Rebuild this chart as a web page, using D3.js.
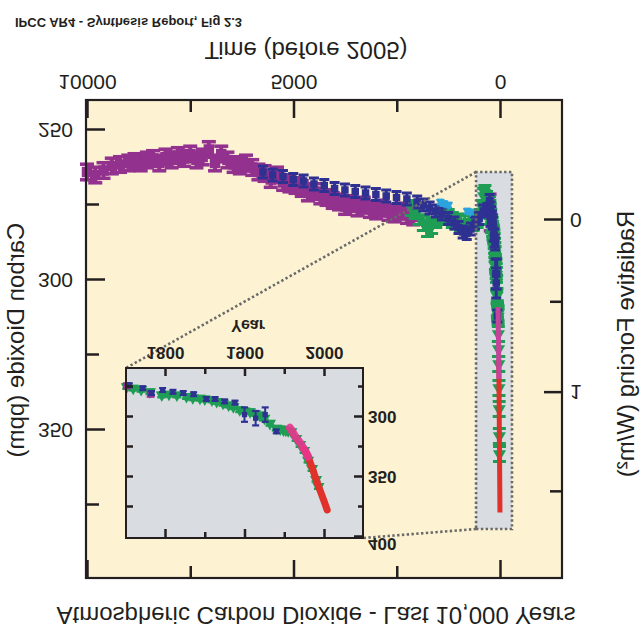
<!DOCTYPE html>
<html><head><meta charset="utf-8">
<script src="https://cdn.jsdelivr.net/npm/d3@7"></script>
<style>body{margin:0;background:#fff}svg{display:block}</style>
</head><body>
<script>
// ---------------- DATA ----------------
const REF_YEAR = 2005;
const timeMajorTicks = [10000, 5000, 0];
const timeMinorTicks = [7500, 2500];
const co2MajorTicks = [250, 300, 350];
const co2MinorTicks = [275, 325, 375];
const forcingMajorTicks = [0, 1];
const forcingMinorTicks = [0.5, 1.5];
const insetYearMajor = [1800, 1900, 2000];
const insetYearMinor = [1850, 1950];
const insetCo2Major = [300, 350, 400];
const insetCo2Minor = [275, 325, 375];

// ice core series (year AD, ppm)
const purpleYear = [-7995,-7795,-7595,-7395,-7195,-6995,-6845,-6695,-6545,-6395,-6245,-6095,-5945,-5795,-5645,-5495,-5345,-5195,-5045,-4895,-4745,-4595,-4445,-4295,-4145,-3995,-3845,-3695,-3545,-3395,-3245,-3095,-2945,-2795,-2645,-2495,-2345,-2195,-2045,-1895,-1745,-1595,-1445,-1295,-1145,-995,-845,-695,-545,-395,-245,-95,1752,1782];
const purpleCO2 = [264,265,263.5,262,261.5,261,260.5,261,260,259.5,261,259,260,258.5,259.5,258,260,259,256.5,261,258,260,261.5,262,261,262.5,264,264.5,266.5,265,267.5,268,268.5,269.5,271,270.5,272,272.5,273.5,274,275.5,274.5,276,275,276.5,277,276,277.5,278,277,278.5,279,274,281];

const blueYear = [-3735,-3500,-3250,-3000,-2750,-2500,-2250,-2000,-1750,-1500,-1250,-1000,-750,-500,-250,0,150,300,450,600,750,900,1000,1100,1200,1300,1400,1500,1600,1700,1755,1772,1783,1797,1810,1823,1836,1852,1863,1875,1888,1900,1914,1926,1940];
const blueCO2 = [264,265,265.5,266.5,267,268,268.5,269.5,270,270.5,271,271.5,272,272.5,273,274,275,276,277,278,279.5,281,282.5,284,284.5,283,281,279.5,277,276.5,273.5,276,280,277.5,279,280,281,285,285,287,288,298,301,298,312];
const blueWideErrYears = [1900, 1914, 1926];

const greenYear = [-145,-50,50,150,250,350,450,550,650,750,850,950,1050,1150,1250,1350,1450,1530,1580,1610,1640,1680,1720,1752,1760,1770,1781,1796,1805,1815,1827,1835,1844,1850,1859,1865,1873,1880,1886,1894,1900,1907,1913,1919,1925,1932,1940,1945,1949,1952,1955,1959,1965,1970,1975,1980,1985,1990,1993];
const greenCO2 = [276,277,279,281,283,282,280,279,278.5,279,280,280.5,281,281,280.5,281,280,279,276,272,271,273,276,274.7,276,277,279,281.7,281,281.7,283,284,284.4,285,285.8,287,288.6,290,291.4,294,295,295.6,297,298.3,301,305.3,309.4,310,310.8,311,311.4,312.2,318,323,328,336,343,352,358];

const cyanYear = [560, 650, 760, 1210, 1290];
const cyanCO2 = [274, 274.5, 275, 277, 277.3];

// atmospheric measurements
const pinkYear = [1957,1960,1965,1970,1973,1977,1980];
const pinkCO2 = [309,312,317.5,321.5,325,329,333];
const redYear = [1975,1980,1986,1990,1995,2000,2004];
const redCO2 = [326.5,333,344,352,361,370,377.5];

// ---------------- STYLE ----------------
const FONT = "'Liberation Sans', Arial, Helvetica, sans-serif";
const INK = "#231f20";
const CREAM = "#fdf2d2";
const GREY = "#d9dce0";
const PURPLE = "#93318f";
const BLUE = "#2e3192";
const GREEN = "#1f9d55";
const CYAN = "#2ba3dc";
const PINK = "#e8358e";
const RED = "#e0312a";

const svg = d3.select("body").append("svg").attr("width", 640).attr("height", 640);
svg.append("rect").attr("width", 640).attr("height", 640).attr("fill", "#fff");
// the reference is shown mirrored top-to-bottom
const root = svg.append("g").attr("transform", "translate(0,640) scale(1,-1)")
  .style("font-family", FONT);

// ---------------- SCALES ----------------
const frame = {left: 86, right: 562, top: 62, bottom: 540};
const xMain = d3.scaleLinear().domain([10000, 0]).range([87, 500]);
const yMain = d3.scaleLinear().domain([250, 350]).range([510, 210]);
const xm = yr => xMain(REF_YEAR - yr);
const forcingToPpm = f => 280 * Math.exp(f / 5.35);

const inset = {left: 126, right: 363, top: 102, bottom: 272};
const xIn = d3.scaleLinear().domain([1800, 2000]).range([165, 324]);
const yIn = d3.scaleLinear().domain([300, 400]).range([223, 103]);
const INSET_START = 1750;

// ---------------- MAIN PANEL ----------------
root.append("rect").attr("x", frame.left).attr("y", frame.top)
  .attr("width", frame.right - frame.left).attr("height", frame.bottom - frame.top)
  .attr("fill", CREAM);

const box = {x0: xMain(580), x1: xMain(-290), yLo: yMain(264), yHi: yMain(383)};
root.append("rect").attr("x", box.x0).attr("y", box.yHi)
  .attr("width", box.x1 - box.x0).attr("height", box.yLo - box.yHi).attr("fill", GREY);

function drawPoints(g, years, vals, xf, yf, st) {
  const pts = d3.zip(years, vals).map(([yr, v]) => ({yr, v, e: st.err(yr)}));
  const grp = g.append("g");
  const item = grp.selectAll("g").data(pts).join("g")
    .attr("transform", d => `translate(${xf(d.yr)},0)`);
  item.append("line").attr("x1", 0).attr("x2", 0)
    .attr("y1", d => yf(d.v - d.e)).attr("y2", d => yf(d.v + d.e))
    .attr("stroke", st.color).attr("stroke-width", st.sw);
  item.append("line").attr("x1", -st.cap / 2).attr("x2", st.cap / 2)
    .attr("y1", d => yf(d.v - d.e)).attr("y2", d => yf(d.v - d.e))
    .attr("stroke", st.color).attr("stroke-width", st.capW);
  item.append("line").attr("x1", -st.cap / 2).attr("x2", st.cap / 2)
    .attr("y1", d => yf(d.v + d.e)).attr("y2", d => yf(d.v + d.e))
    .attr("stroke", st.color).attr("stroke-width", st.capW);
  item.append("path")
    .attr("d", d3.symbol().type(st.sym).size(st.size)())
    .attr("transform", d => `translate(0,${yf(d.v)})`)
    .attr("fill", st.color);
}
function after(years, vals, start) {
  const keep = years.map(y => y >= start);
  return [years.filter((y, i) => keep[i]), vals.filter((v, i) => keep[i])];
}

const mainData = root.append("g");
drawPoints(mainData, purpleYear, purpleCO2, xm, yMain,
  {color: PURPLE, err: () => 2.6, cap: 14, sw: 4, capW: 3.5, sym: d3.symbolSquare, size: 110});
drawPoints(mainData, greenYear, greenCO2, xm, yMain,
  {color: GREEN, err: () => 2.5, cap: 13, sw: 3, capW: 3, sym: d3.symbolTriangle, size: 75});
drawPoints(mainData, blueYear, blueCO2, xm, yMain,
  {color: BLUE, err: yr => blueWideErrYears.includes(yr) ? 5 : 2, cap: 10, sw: 3, capW: 3, sym: d3.symbolSquare, size: 56});
drawPoints(mainData, cyanYear, cyanCO2, xm, yMain,
  {color: CYAN, err: () => 0.8, cap: 7, sw: 2, capW: 2, sym: d3.symbolTriangle, size: 36});

const lineMain = d3.line().x(d => xm(d[0])).y(d => yMain(d[1]));
mainData.append("path").datum(d3.zip(redYear, redCO2)).attr("d", lineMain)
  .attr("fill", "none").attr("stroke", RED).attr("stroke-width", 5);
mainData.append("path").datum(d3.zip(pinkYear, pinkCO2)).attr("d", lineMain)
  .attr("fill", "none").attr("stroke", "#c4449a").attr("stroke-width", 5);

// dotted zoom box and connectors
const dotted = {stroke: "#6a6a6a", "stroke-width": 2.6, "stroke-dasharray": "2.4,2.4", fill: "none"};
function applyAttrs(sel, a) { Object.entries(a).forEach(([k, v]) => sel.attr(k, v)); return sel; }
applyAttrs(root.append("rect").attr("x", box.x0).attr("y", box.yHi)
  .attr("width", box.x1 - box.x0).attr("height", box.yLo - box.yHi), dotted);
applyAttrs(root.append("line").attr("x1", box.x0).attr("y1", box.yLo)
  .attr("x2", inset.left).attr("y2", inset.bottom), dotted);
applyAttrs(root.append("line").attr("x1", box.x0).attr("y1", box.yHi)
  .attr("x2", inset.right).attr("y2", inset.top), dotted);

// axes helpers
function styleAxis(g, fs, weight) {
  g.select(".domain").remove();
  g.selectAll(".tick line").attr("stroke", INK).attr("stroke-width", 2.5);
  g.selectAll(".tick text").attr("fill", INK).style("font-size", fs + "px")
    .style("font-family", FONT).style("font-weight", weight || "normal");
  return g;
}
const fmt = d3.format("d");
styleAxis(root.append("g").attr("transform", `translate(0,${frame.bottom})`)
  .call(d3.axisBottom(xMain).tickValues(timeMajorTicks).tickSize(-18).tickPadding(10).tickFormat(fmt)), 21);
styleAxis(root.append("g").attr("transform", `translate(0,${frame.bottom})`)
  .call(d3.axisBottom(xMain).tickValues(timeMinorTicks).tickSize(-12).tickFormat("")), 21);
styleAxis(root.append("g").attr("transform", `translate(0,${frame.top})`)
  .call(d3.axisTop(xMain).tickValues(timeMajorTicks).tickSize(-18).tickFormat("")), 21);
styleAxis(root.append("g").attr("transform", `translate(0,${frame.top})`)
  .call(d3.axisTop(xMain).tickValues(timeMinorTicks).tickSize(-12).tickFormat("")), 21);
styleAxis(root.append("g").attr("transform", `translate(${frame.left},0)`)
  .call(d3.axisLeft(yMain).tickValues(co2MajorTicks).tickSize(-19).tickPadding(13).tickFormat(fmt)), 21);
styleAxis(root.append("g").attr("transform", `translate(${frame.left},0)`)
  .call(d3.axisLeft(yMain).tickValues(co2MinorTicks).tickSize(-13).tickFormat("")), 21);
styleAxis(root.append("g").attr("transform", `translate(${frame.right},0)`)
  .call(d3.axisRight(yMain).tickValues(forcingMajorTicks.map(forcingToPpm)).tickSize(-18).tickPadding(8)
    .tickFormat((d, i) => forcingMajorTicks[i])), 21);
styleAxis(root.append("g").attr("transform", `translate(${frame.right},0)`)
  .call(d3.axisRight(yMain).tickValues(forcingMinorTicks.map(forcingToPpm)).tickSize(-12).tickFormat("")), 21);

root.append("rect").attr("x", frame.left).attr("y", frame.top)
  .attr("width", frame.right - frame.left).attr("height", frame.bottom - frame.top)
  .attr("fill", "none").attr("stroke", INK).attr("stroke-width", 2.2);

// ---------------- INSET ----------------
root.append("rect").attr("x", inset.left).attr("y", inset.top)
  .attr("width", inset.right - inset.left).attr("height", inset.bottom - inset.top).attr("fill", GREY);
const insetData = root.append("g");
const xi = yr => xIn(yr);
const [gY, gV] = after(greenYear, greenCO2, INSET_START);
const [pY, pV] = after(purpleYear, purpleCO2, INSET_START);
const [bY, bV] = after(blueYear, blueCO2, INSET_START);
drawPoints(insetData, gY, gV, xi, yIn,
  {color: GREEN, err: () => 1.8, cap: 9, sw: 2.5, capW: 2.5, sym: d3.symbolTriangle, size: 64});
insetData.append("path").datum(d3.zip(redYear, redCO2)).attr("d", d3.line().x(d => xIn(d[0])).y(d => yIn(d[1])))
  .attr("fill", "none").attr("stroke", RED).attr("stroke-width", 7).attr("stroke-linecap", "round");
insetData.append("path").datum(d3.zip(pinkYear, pinkCO2)).attr("d", d3.line().x(d => xIn(d[0])).y(d => yIn(d[1])))
  .attr("fill", "none").attr("stroke", PINK).attr("stroke-width", 8).attr("stroke-linecap", "round").attr("opacity", 0.9);
drawPoints(insetData, pY, pV, xi, yIn,
  {color: PURPLE, err: () => 2, cap: 8, sw: 2, capW: 2.2, sym: d3.symbolSquare, size: 42});
drawPoints(insetData, bY, bV, xi, yIn,
  {color: BLUE, err: yr => blueWideErrYears.includes(yr) ? 6 : 1.6, cap: 7, sw: 2, capW: 2.2, sym: d3.symbolSquare, size: 28});

styleAxis(root.append("g").attr("transform", `translate(0,${inset.bottom})`)
  .call(d3.axisBottom(xIn).tickValues(insetYearMajor).tickSize(-8).tickPadding(9).tickFormat(fmt)), 17, "bold");
styleAxis(root.append("g").attr("transform", `translate(0,${inset.bottom})`)
  .call(d3.axisBottom(xIn).tickValues(insetYearMinor).tickSize(-6).tickFormat("")), 17);
styleAxis(root.append("g").attr("transform", `translate(0,${inset.top})`)
  .call(d3.axisTop(xIn).tickValues(insetYearMajor).tickSize(-9).tickFormat("")), 17);
styleAxis(root.append("g").attr("transform", `translate(0,${inset.top})`)
  .call(d3.axisTop(xIn).tickValues(insetYearMinor).tickSize(-6).tickFormat("")), 17);
styleAxis(root.append("g").attr("transform", `translate(${inset.left},0)`)
  .call(d3.axisLeft(yIn).tickValues(insetCo2Minor.concat([300, 350])).tickSize(-7).tickFormat("")), 17);
const inRight = styleAxis(root.append("g").attr("transform", `translate(${inset.right},0)`)
  .call(d3.axisRight(yIn).tickValues(insetCo2Major).tickSize(-9).tickPadding(5).tickFormat(fmt)), 17, "bold");
inRight.selectAll(".tick text").filter(d => d === d3.max(insetCo2Major)).attr("dy", "-0.1em");
styleAxis(root.append("g").attr("transform", `translate(${inset.right},0)`)
  .call(d3.axisRight(yIn).tickValues(insetCo2Minor).tickSize(-5).tickFormat("")), 17);

root.append("rect").attr("x", inset.left).attr("y", inset.top)
  .attr("width", inset.right - inset.left).attr("height", inset.bottom - inset.top)
  .attr("fill", "none").attr("stroke", INK).attr("stroke-width", 2);

root.append("text").attr("x", 248).attr("y", 320).attr("text-anchor", "middle")
  .style("font-size", "16px").style("font-weight", "bold").attr("fill", INK).text("Year");

// ---------------- TITLES ----------------
root.append("text").attr("x", 316).attr("y", 33).attr("text-anchor", "middle")
  .style("font-size", "24px").attr("fill", INK)
  .text("Atmospheric Carbon Dioxide - Last 10,000 Years");
root.append("text").attr("x", 306).attr("y", 598).attr("text-anchor", "middle")
  .style("font-size", "24px").attr("fill", INK).text("Time (before 2005)");
root.append("text").attr("x", 15).attr("y", 622).attr("text-anchor", "start")
  .style("font-size", "13px").style("font-weight", "bold").attr("fill", INK)
  .text("IPCC AR4 - Synthesis Report, Fig 2.3");
root.append("text").attr("transform", "translate(24,300) rotate(-90)").attr("text-anchor", "middle")
  .style("font-size", "24px").attr("fill", INK).text("Carbon Dioxide (ppm)");
root.append("text").attr("transform", "translate(634,296) rotate(-90)").attr("text-anchor", "middle")
  .style("font-size", "24px").attr("fill", INK).text("Radiative Forcing (W/m²)");
</script>
</body></html>
